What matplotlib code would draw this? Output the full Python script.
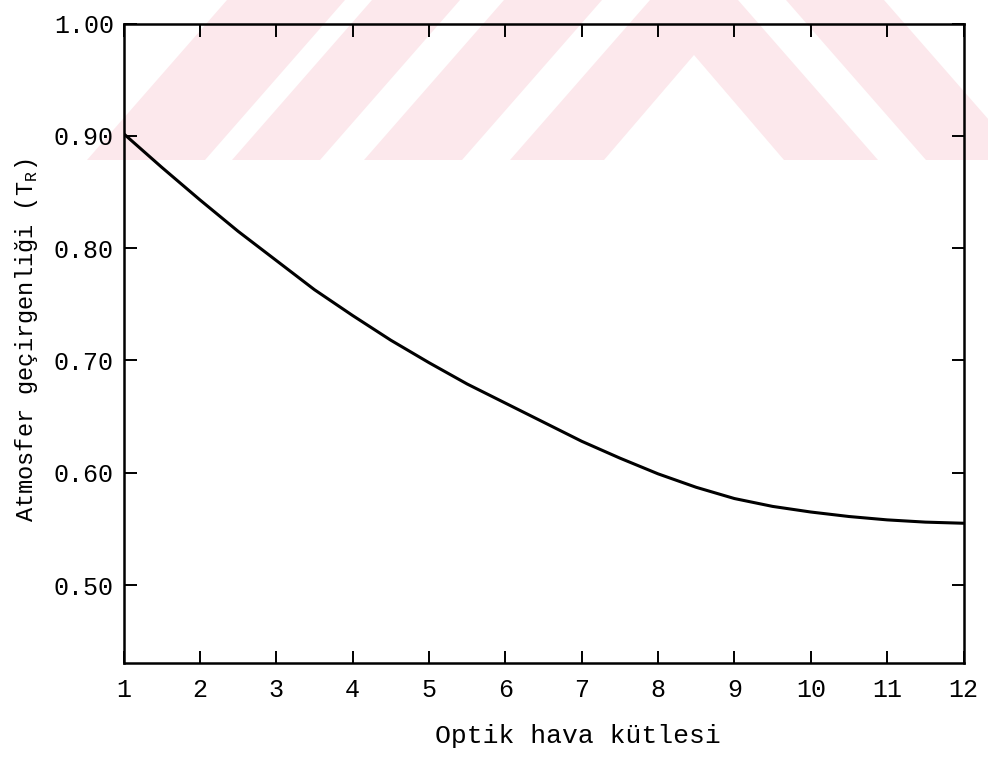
import matplotlib
matplotlib.use("Agg")
import matplotlib.pyplot as plt
from matplotlib.patches import Polygon

# ---- data ----
air_mass = [1.0, 1.5, 2.0, 2.5, 3.0, 3.5, 4.0, 4.5, 5.0, 5.5, 6.0, 6.5,
            7.0, 7.5, 8.0, 8.5, 9.0, 9.5, 10.0, 10.5, 11.0, 11.5, 12.0]
transmittance = [0.902, 0.872, 0.843, 0.815, 0.789, 0.763, 0.740, 0.718,
                 0.698, 0.679, 0.662, 0.645, 0.628, 0.613, 0.599, 0.587,
                 0.577, 0.570, 0.565, 0.561, 0.558, 0.556, 0.555]
x_ticks = list(range(1, 13))
y_ticks = [0.50, 0.60, 0.70, 0.80, 0.90, 1.00]
y_tick_labels = ["0.50", "0.60", "0.70", "0.80", "0.90", "1.00"]
x_label = "Optik hava kütlesi"
y_label = "Atmosfer geçirgenliği (T$_\\mathregular{R}$)"

plt.rcParams['font.family'] = ['Liberation Mono', 'DejaVu Sans Mono']
plt.rcParams['mathtext.fontset'] = 'custom'
plt.rcParams['mathtext.rm'] = 'Liberation Mono'

W, H = 988, 762
fig = plt.figure(figsize=(W / 100, H / 100), dpi=100)
fig.patch.set_facecolor('white')

# ---- faint watermark (decoration of the scanned page) ----
pink = '#fce8ec'
c = 694.0
def fpoly(pts):
    verts = [(x / W, 1 - y / H) for x, y in pts]
    fig.patches.append(Polygon(verts, closed=True, transform=fig.transFigure,
                               facecolor=pink, edgecolor='none', zorder=-10))
s = 140.0
fpoly([(c - 44, 0), (c + 44, 0), (c + 44 + s, 160), (c + 90, 160), (c, 55),
       (c - 90, 160), (c - 44 - s, 160)])
for a, b in [(92, 190)]:
    fpoly([(c - a, 0), (c - b, 0), (c - b - s, 160), (c - a - s, 160)])
    fpoly([(c + a, 0), (c + b, 0), (c + b + s, 160), (c + a + s, 160)])
for a, b in [(234, 322), (349, 467)]:
    fpoly([(c - a, 0), (c - b, 0), (c - b - s, 160), (c - a - s, 160)])

# ---- axes ----
ax = fig.add_axes([123.5 / W, 1 - 662.5 / H, 840 / W, 639 / H])
ax.set_facecolor('none')
ax.plot(air_mass, transmittance, color='black', lw=2.2, solid_capstyle='round')

ax.set_xlim(1, 12)
ax.set_ylim(0.431, 1.0)
ax.set_xticks(x_ticks)
ax.set_xticklabels([str(v) for v in x_ticks])
ax.set_yticks(y_ticks)
ax.set_yticklabels(y_tick_labels)

for sp in ax.spines.values():
    sp.set_linewidth(1.8)
    sp.set_color('black')

ax.tick_params(axis='both', direction='in', length=9, width=1.4,
               top=True, right=True, labelsize=18, colors='black')
ax.tick_params(axis='x', pad=11)
ax.tick_params(axis='y', pad=7)

ax.set_xlabel(x_label, fontsize=19)
ax.xaxis.set_label_coords(0.541, -0.097)
ax.set_ylabel(y_label, fontsize=17)
ax.yaxis.set_label_coords(-0.099, 0.505)

fig.savefig('out.png', dpi=100, facecolor='white')
